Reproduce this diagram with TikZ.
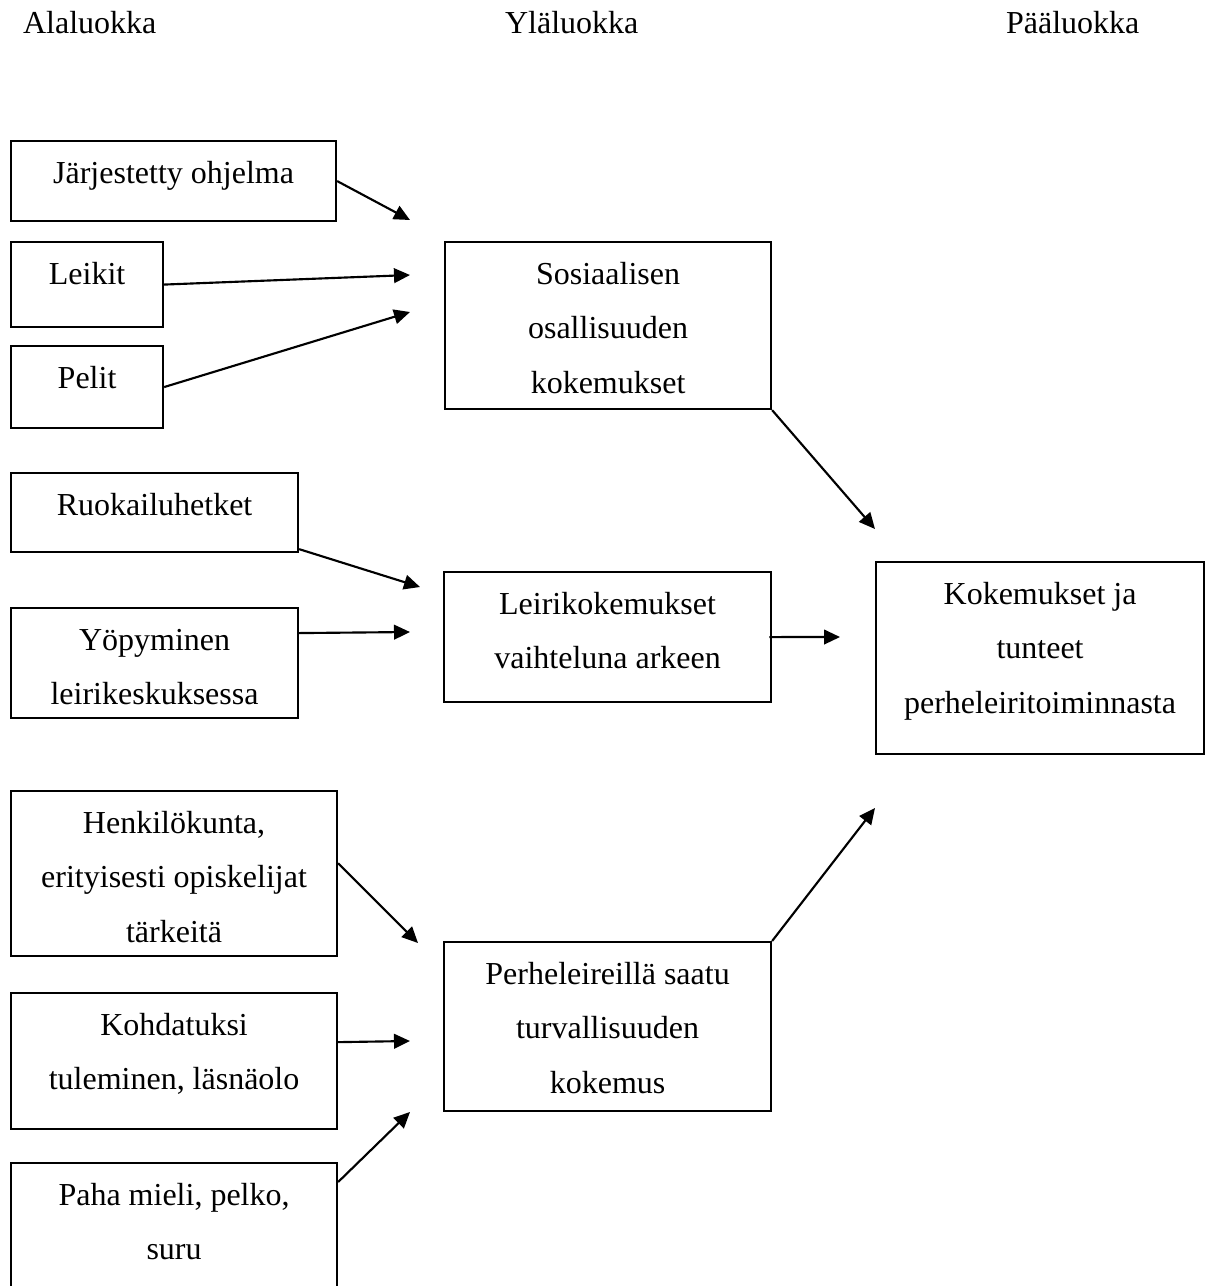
\documentclass[tikz,border=0pt]{standalone}
\usepackage{fontspec}
\setmainfont{Liberation Serif}
\usetikzlibrary{arrows.meta}

\newdimen\px \px=0.375pt
\newcommand\boxtext[3]{\parbox[c][#2\px][t]{#1\px}{\centering\rule{0pt}{42\px}#3}}

\begin{document}
\begin{tikzpicture}[x=0.375pt, y=-0.375pt, ->, >={Triangle[length=6pt,width=5.5pt]},
    line width=0.8pt, font=\fontsize{12pt}{20.44pt}\selectfont,
    every node/.style={inner sep=0pt},
    box/.style={draw, anchor=north west}]
\useasboundingbox (0,0) rectangle (1210,1286);

\node[anchor=base west] (ala) at (22,33) {Alaluokka};
\node[anchor=base west] (yla) at (504,33) {Yläluokka};
\node[anchor=base west] (paa) at (1005,33) {Pääluokka};

\node[box] (J) at (10,140) {\boxtext{325}{80}{Järjestetty ohjelma}};
\node[box] (L) at (10,241) {\boxtext{152}{85}{Leikit}};
\node[box] (P) at (10,345) {\boxtext{152}{82}{Pelit}};
\node[box] (R) at (10,472) {\boxtext{287}{79}{Ruokailuhetket}};
\node[box] (Y) at (10,607) {\boxtext{287}{110}{Yöpyminen\\leirikeskuksessa}};
\node[box] (H) at (10,790) {\boxtext{326}{165}{Henkilökunta,\\erityisesti opiskelijat\\tärkeitä}};
\node[box] (D) at (10,992) {\boxtext{326}{136}{Kohdatuksi\\tuleminen, läsnäolo}};
\node[box] (M) at (10,1162) {\boxtext{326}{160}{Paha mieli, pelko,\\suru}};

\node[box] (S) at (444,241) {\boxtext{326}{167}{Sosiaalisen\\osallisuuden\\kokemukset}};
\node[box] (V) at (443,571) {\boxtext{327}{130}{Leirikokemukset\\vaihteluna arkeen}};
\node[box] (T) at (443,941) {\boxtext{327}{169}{Perheleireillä saatu\\turvallisuuden\\kokemus}};

\node[box] (K) at (875,561) {\boxtext{328}{192}{Kokemukset ja\\tunteet\\perheleiritoiminnasta}};

\coordinate (j) at (410,220);
\coordinate (l) at (410,275);
\coordinate (p) at (410,312);
\coordinate (r) at (420,587);
\coordinate (y) at (410,632);
\coordinate (h) at (418,943);
\coordinate (d) at (410,1041);
\coordinate (m) at (410,1112);
\coordinate (s) at (875,529);
\coordinate (v) at (840,637);
\coordinate (t) at (875,808);

\path (J.east) edge (j);
\path (L.east) edge (l);
\path (P.east) edge (p);
\path ([yshift=1.5pt]R.south east) edge (r);
\path ([yshift=11.25pt]Y.east) edge (y);
\path ([yshift=3.9pt]H.east) edge (h);
\path ([yshift=7.1pt]D.east) edge (d);
\path ([yshift=-7.5pt]M.north east) edge (m);
\path (S.south east) edge (s);
\path ([xshift=-1pt]V.east) edge (v);
\path (T.north east) edge (t);
\end{tikzpicture}
\end{document}
